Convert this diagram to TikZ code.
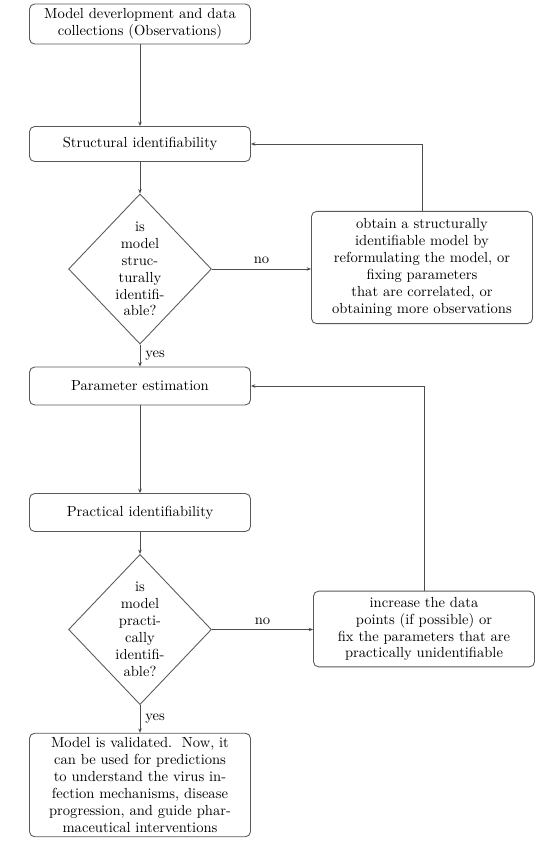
\documentclass[tikz,border=0pt]{standalone}
\usetikzlibrary{shapes.geometric,arrows.meta}
\begin{document}
\begin{tikzpicture}[x=0.686pt,y=-0.686pt,
 every node/.style={font=\fontsize{10}{11.6}\selectfont},
 box/.style={draw=black!65, line width=0.6pt, rounded corners=3.5pt, align=center, inner sep=0pt, minimum width=151.6pt},
 dia/.style={draw=black!65, line width=0.6pt, diamond, inner sep=0pt, minimum width=98pt, minimum height=103pt},
 txt/.style={align=center, inner sep=0pt},
 arr/.style={draw=black!70, line width=0.6pt, -{Stealth[length=3pt,width=2.4pt]}}]
\useasboundingbox (0,0) rectangle (546,848);
\node[box, minimum height=27.4pt] (b1) at (140,24) {Model deverlopment and data\\collections (Observations)};
\node[box, minimum height=24pt] (b2) at (140,144) {Structural identifiability};
\node[dia] (d1) at (140,269) {};
\node[txt] (d1t) at (140,269) {is\\model\\struc-\\turally\\identifi-\\able?};
\node[box, minimum height=77pt] (r1) at (422,267.5) {obtain a structurally\\identifiable model by\\reformulating the model, or\\fixing parameters\\that are correlated, or\\obtaining more observations};
\node[box, minimum height=26pt] (b3) at (140,386) {Parameter estimation};
\node[box, minimum height=26pt] (b4) at (140,512.5) {Practical identifiability};
\node[dia] (d2) at (140,629.5) {};
\node[txt] (d2t) at (140,629.5) {is\\model\\practi-\\cally\\identifi-\\able?};
\node[box, minimum height=52pt] (r2) at (424,629) {increase the data\\points (if possible) or\\fix the parameters that are\\practically unidentifiable};
\node[box, minimum height=71pt] (b5) at (140,785) {Model is validated.\ \ Now, it\\can be used for predictions\\to understand the virus in-\\fection mechanisms, disease\\progression, and guide phar-\\maceutical interventions};
\draw[arr] (b1) -- (b2);
\draw[arr] (b2) -- (d1);
\draw[arr] (d1.east) -- node[above] {no} (d1.east -| r1.west);
\draw[arr] (d1) -- node[right] {yes} (b3);
\draw[arr] (r1.north) |- (b2.east);
\draw[arr] (b3) -- (b4);
\draw[arr] (b4) -- (d2);
\draw[arr] (d2.east) -- node[above] {no} (d2.east -| r2.west);
\draw[arr] (d2) -- node[right] {yes} (b5);
\draw[arr] (r2.north) |- (b3.east);
\end{tikzpicture}
\end{document}
